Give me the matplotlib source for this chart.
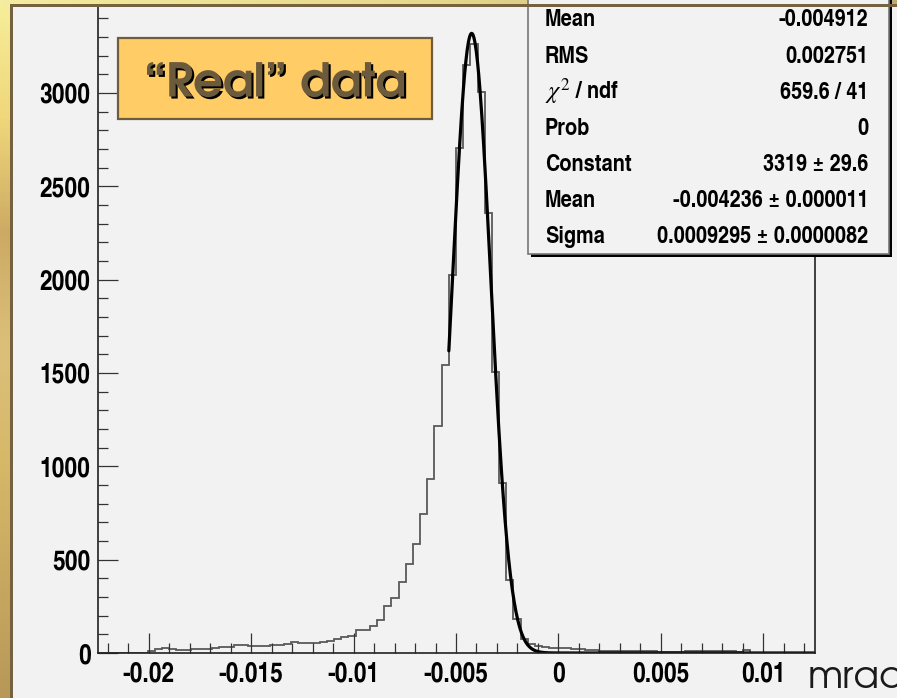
import numpy as np
import matplotlib
matplotlib.use("Agg")
import matplotlib.pyplot as plt
from matplotlib import font_manager
from matplotlib.patches import Rectangle
import matplotlib.patheffects as pe
from matplotlib.ticker import MultipleLocator, FixedLocator

plt.rcParams["mathtext.fontset"] = "stix"

# ---------------- data ----------------
x_min, x_max, n_bins = -0.0225, 0.0125, 100
counts = [
    0, 0, 0, 0, 0, 0, 0, 12, 22, 27,
    20, 18, 18, 20, 21, 22, 28, 30, 32, 43,
    42, 40, 38, 40, 43, 44, 50, 57, 56, 54,
    53, 60, 62, 75, 85, 93, 121, 121, 145, 179,
    254, 294, 380, 475, 586, 746, 931, 1214, 1545, 2026,
    2703, 3151, 3262, 3003, 2358, 1504, 910, 390, 180, 75,
    50, 40, 30, 25, 28, 28, 20, 20, 15, 15,
    12, 12, 12, 10, 10, 10, 10, 10, 8, 3,
    3, 5, 13, 13, 12, 12, 12, 10, 10, 6,
    15, 0, 0, 0, 0, 0, 0, 0, 0, 0,
]
fit_const, fit_mean, fit_sigma = 3319.0, -0.004236, 0.0009295
fit_range = (-0.00535, 0.0125)

x_ticks = [-0.02, -0.015, -0.01, -0.005, 0, 0.005, 0.01]
x_tick_labels = ["-0.02", "-0.015", "-0.01", "-0.005", "0", "0.005", "0.01"]
y_ticks = [0, 500, 1000, 1500, 2000, 2500, 3000]
y_tick_labels = ["0", "500", "1000", "1500", "2000", "2500", "3000"]

stat_names = ["Mean", "RMS", r"$\chi^{2}$ / ndf", "Prob", "Constant", "Mean", "Sigma"]
stat_values = ["-0.004912", "0.002751", "659.6 / 41", "0",
               "3319 ± 29.6", "-0.004236 ± 0.000011", "0.0009295 ± 0.0000082"]

# ---------------- fonts ----------------
def pick(names):
    for n in names:
        try:
            font_manager.findfont(font_manager.FontProperties(family=n),
                                  fallback_to_default=False)
            return n
        except Exception:
            pass
    return "DejaVu Sans"

narrow = pick(["TeX Gyre Heros Cn", "PT Sans Narrow", "Liberation Sans Narrow", "Liberation Sans"])
geo = pick(["TeX Gyre Adventor", "Questrial", "Lato", "DejaVu Sans"])

W, H = 897, 698
fig = plt.figure(figsize=(W / 100, H / 100), dpi=100)
fig.patch.set_facecolor("#f2f2f2")

# background (pixel coords)
bg = fig.add_axes([0, 0, 1, 1], zorder=-10)
bg.set_xlim(0, W); bg.set_ylim(H, 0); bg.axis("off")
col_stops = np.array([[247, 238, 154], [240, 215, 122], [205, 170, 100],
                      [220, 192, 122], [214, 184, 104], [200, 168, 96], [184, 152, 88]]) / 255
yy = np.linspace(0, 1, 200)
sp = np.linspace(0, 1, len(col_stops))
grad = np.stack([np.interp(yy, sp, col_stops[:, c]) for c in range(3)], axis=-1)[:, None, :]
bg.imshow(grad, extent=[0, 11, H, 0], aspect="auto", zorder=1)
topc = np.array([[244, 236, 160], [230, 215, 140], [190, 170, 110]]) / 255
xx = np.linspace(0, 1, 200)
sp2 = np.linspace(0, 1, len(topc))
gradt = np.stack([np.interp(xx, sp2, topc[:, c]) for c in range(3)], axis=-1)[None, :, :]
bg.imshow(gradt, extent=[0, W, 5, 0], aspect="auto", zorder=1)

# main axes
L, R, B, T = 97.5, 814.5, 653, 7
ax = fig.add_axes([L / W, 1 - B / H, (R - L) / W, (B - T) / H])
ax.set_facecolor("#f2f2f2")
edges = np.linspace(x_min, x_max, n_bins + 1)
ax.stairs(counts, edges, color="#5a5a5a", lw=1.3, baseline=0)
xf = np.linspace(fit_range[0], fit_range[1], 600)
ax.plot(xf, fit_const * np.exp(-0.5 * ((xf - fit_mean) / fit_sigma) ** 2),
        color="black", lw=2.3, solid_capstyle="round")
ax.set_xlim(x_min, x_max)
ax.set_ylim(0, 3460)

for s in ["left", "bottom", "right"]:
    ax.spines[s].set_color("#222222"); ax.spines[s].set_linewidth(1.2)
ax.spines["top"].set_visible(False)
ax.xaxis.set_major_locator(FixedLocator(x_ticks))
ax.xaxis.set_minor_locator(MultipleLocator(0.001))
ax.yaxis.set_major_locator(FixedLocator(y_ticks))
ax.yaxis.set_minor_locator(MultipleLocator(100))
ax.set_xticklabels(x_tick_labels)
ax.set_yticklabels(y_tick_labels)
ax.tick_params(which="both", direction="in", color="#333333", width=0.9,
               top=False, right=False)
ax.tick_params(which="major", length=14.5)
ax.tick_params(which="minor", length=7.2)
ax.tick_params(axis="x", which="major", pad=6)
ax.tick_params(axis="y", which="major", pad=5)
for lab in ax.get_xticklabels() + ax.get_yticklabels():
    lab.set_fontfamily(narrow); lab.set_fontweight("bold")
    lab.set_fontsize(20); lab.set_color("black")

# overlay (pixel coords)
fg = fig.add_axes([0, 0, 1, 1], zorder=10)
fg.set_xlim(0, W); fg.set_ylim(H, 0); fg.axis("off"); fg.patch.set_alpha(0)

# stats box
fg.add_patch(Rectangle((530.5, -20), 361, 277, facecolor="black", edgecolor="none", zorder=2))
fg.add_patch(Rectangle((527.5, -20), 361, 273.5, facecolor="#f2f2f2",
                       edgecolor="#777777", lw=1.2, zorder=3))
base0, step = 26.5, 36.1
for i, (n, v) in enumerate(zip(stat_names, stat_values)):
    yb = base0 + i * step
    fg.text(545, yb, n, ha="left", va="baseline", fontsize=17.5,
            fontweight="bold", family=[narrow, "DejaVu Sans"], color="black", zorder=4)
    fg.text(868.5, yb, v, ha="right", va="baseline", fontsize=17.5,
            fontweight="bold", family=[narrow, "DejaVu Sans"], color="black", zorder=4)

# label box
fg.add_patch(Rectangle((117.5, 37.5), 314, 81, facecolor="#ffcc66",
                       edgecolor="#6e5c3c", lw=1.6, zorder=3))
fg.text(275, 96.5, "“Real” data", ha="center", va="baseline", fontsize=33.5,
        fontweight="bold", family=[geo, "DejaVu Sans"], color="#6b5a3c", zorder=4,
        path_effects=[pe.SimplePatchShadow(offset=(1.5, -1.5), shadow_rgbFace="black", alpha=1.0),
                      pe.Normal()])

# axis title
fg.text(808, 688, "mrad", ha="left", va="baseline", fontsize=27,
        fontweight="normal", family=[geo, "DejaVu Sans"], color="#1a1a1a", zorder=4)

# frame borders
fg.add_patch(Rectangle((10, 4), 2.5, H, facecolor="#756240", edgecolor="none", zorder=6))
fg.add_patch(Rectangle((10, 4), W, 3, facecolor="#756240", edgecolor="none", zorder=6))

fig.savefig("out.png", dpi=100, facecolor=fig.get_facecolor())
